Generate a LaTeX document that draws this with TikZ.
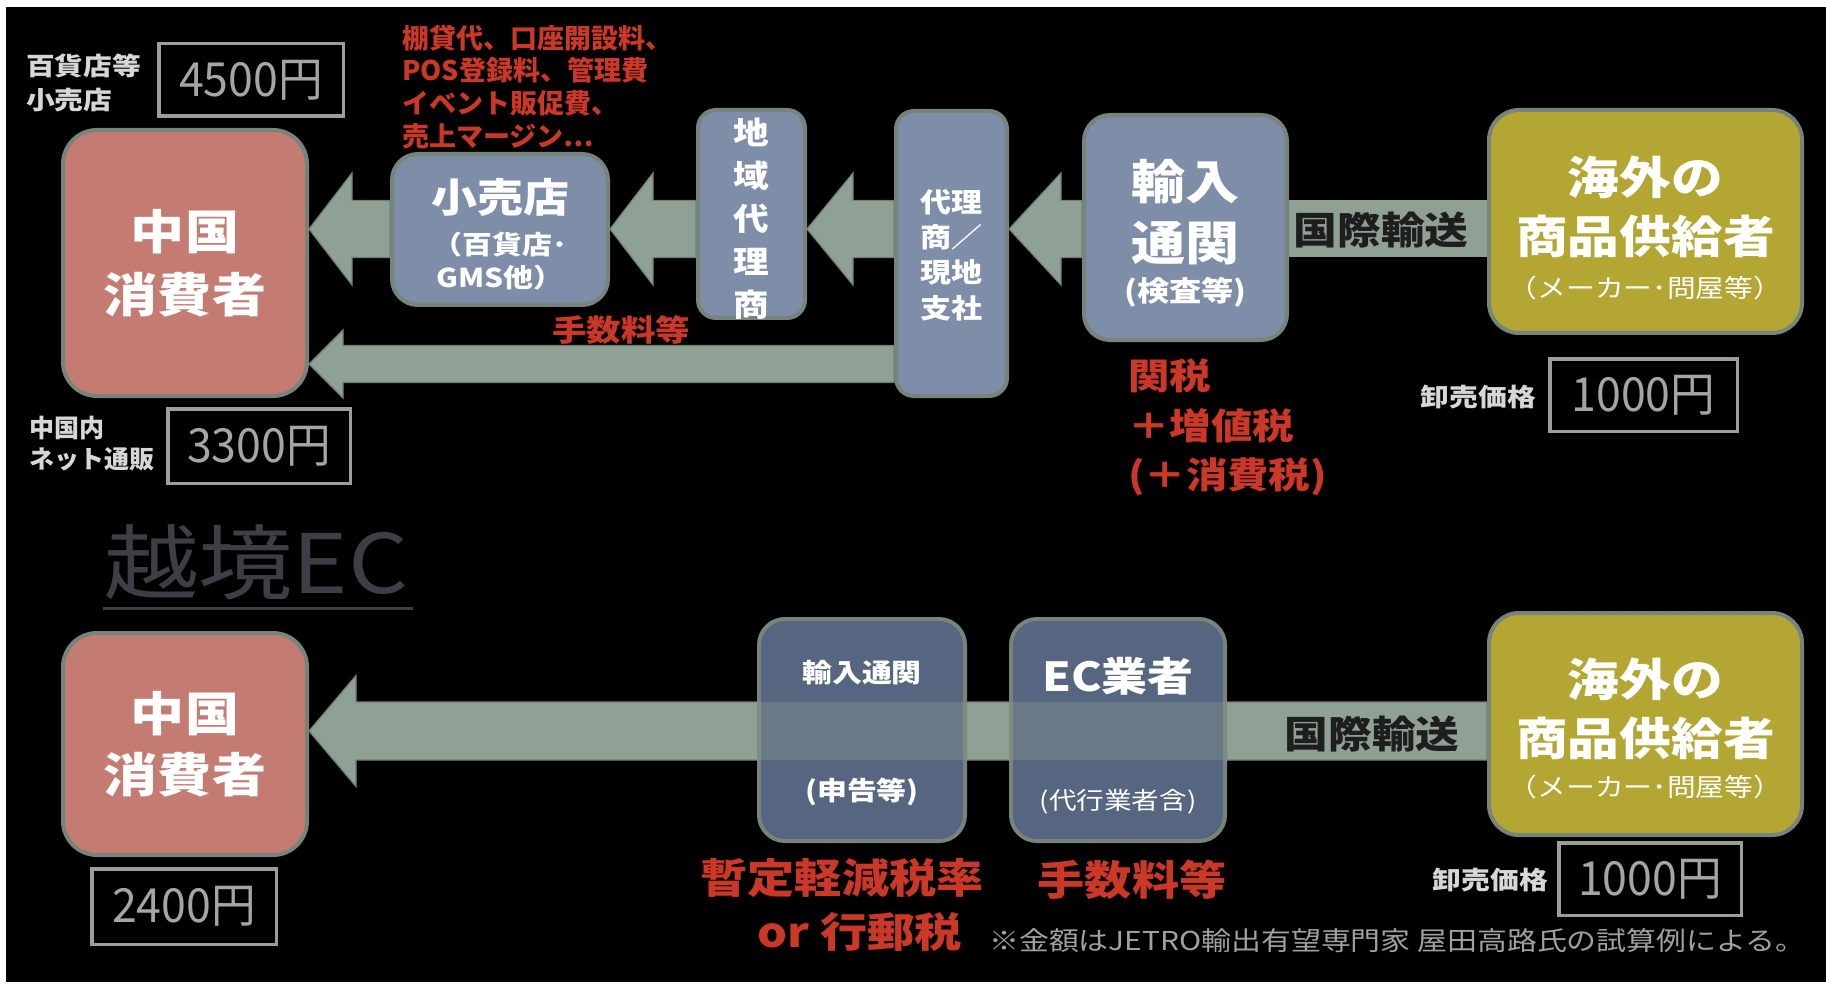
\documentclass[tikz,border=0pt]{standalone}
\usepackage{fontspec}
\usetikzlibrary{calc}
\newfontfamily\jp{Noto Sans CJK JP}[FakeStretch=1.15]
\newfontfamily\jpn{Noto Sans CJK JP}
\newfontfamily\jpc{Noto Sans CJK JP}[FakeStretch=0.95]
\newcommand{\setfs}[2]{\fontsize{#1}{#2}\selectfont}
\definecolor{pinkc}{RGB}{196,124,114}
\definecolor{slatec}{RGB}{126,141,168}
\definecolor{slated}{RGB}{86,101,128}
\definecolor{olivec}{RGB}{180,166,50}
\definecolor{arrowc}{RGB}{143,160,148}
\definecolor{arrowe}{RGB}{112,128,118}
\definecolor{bordc}{RGB}{118,132,124}
\definecolor{redc}{RGB}{204,56,40}
\definecolor{labc}{RGB}{215,215,215}
\definecolor{pricec}{RGB}{155,158,156}
\definecolor{pricet}{RGB}{165,165,165}
\definecolor{ecc}{RGB}{62,62,70}
\definecolor{bandt}{RGB}{30,30,30}
\definecolor{notec}{RGB}{160,160,160}
\pgfdeclarelayer{bg}
\pgfdeclarelayer{arrowlayer}
\pgfsetlayers{bg,arrowlayer,main}
\tikzset{
  bx/.style={draw=bordc, line width=4pt, rounded corners=#1, inner sep=0pt, text=white, align=center},
  bx/.default=26pt,
  pbox/.style={draw=pricec, line width=3.5pt, inner sep=0pt, text=pricet, font=\jpc\setfs{47}{47}},
  lab/.style={text=labc, inner sep=0pt, align=left},
  redlab/.style={text=redc, inner sep=0pt, align=left},
  wt/.style={text=white, inner sep=0pt, align=center},
  bandlab/.style={text=bandt, inner sep=0pt, font=\jp\bfseries\setfs{38}{38}},
  arrowbody/.style={fill=arrowc, draw=arrowe, line width=1.2pt, line join=miter},
}
% #1 start (right end), #2 tip, #3 shaft half-height, #4 head half-height, #5 head length
\newcommand{\blockarr}[5]{%
  \filldraw[arrowbody] let \p1=(#1), \p2=(#2) in
    (\x1,\y1+#3pt) -- (\x2+#5pt,\y1+#3pt) -- (\x2+#5pt,\y1+#4pt) -- (\x2,\y1)
    -- (\x2+#5pt,\y1-#4pt) -- (\x2+#5pt,\y1-#3pt) -- (\x1,\y1-#3pt) -- cycle;}
\begin{document}
\begin{tikzpicture}[x=1pt,y=-1pt]
\useasboundingbox (0,0) rectangle (1826,984);
\begin{pgfonlayer}{bg}
\fill[white] (0,0) rectangle (1826,984);
\fill[black] (6,7) rectangle (1826,982);
\end{pgfonlayer}

\coordinate (rowA) at (0,229);
\coordinate (rowB) at (0,364);
\coordinate (rowC) at (0,731);

% ---------- top row boxes ----------
\node[bx=34pt, fill=pinkc, minimum width=244pt, minimum height=266pt,
      font=\jp\bfseries\setfs{47}{63}] (cn1) at (185,263) {中国\\消費者};
\node[bx, fill=slatec, minimum width=216pt, minimum height=151pt] (kouri) at (500,229.5) {};
\node[bx=18pt, fill=slatec, minimum width=107pt, minimum height=208pt] (chiiki) at (751.5,214) {};
\node[bx=18pt, fill=slatec, minimum width=111pt, minimum height=285pt] (dairi) at (951.5,253.5) {};
\node[bx, fill=slatec, minimum width=203pt, minimum height=225pt] (yunyu) at (1185.5,227.5) {};
\node[bx=30pt, fill=olivec, minimum width=313pt, minimum height=223pt] (kaigai1) at (1645.5,221.5) {};

% ---------- top row connectors ----------
\begin{pgfonlayer}{arrowlayer}
\fill[arrowc] ($(yunyu.east |- rowA)+(0,-28.5)$) rectangle ($(kaigai1.west |- rowA)+(0,28.5)$);
\blockarr{yunyu.west |- rowA}{dairi.east |- rowA}{28.5}{56}{52}
\blockarr{dairi.west |- rowA}{chiiki.east |- rowA}{28.5}{56}{46}
\blockarr{chiiki.west |- rowA}{kouri.east |- rowA}{28.5}{56}{43}
\blockarr{kouri.west |- rowA}{cn1.east |- rowA}{28.5}{56}{43}
\blockarr{dairi.west |- rowB}{cn1.east |- rowB}{18.5}{34}{34}
\end{pgfonlayer}

% ---------- top row texts ----------
\node[wt, font=\jp\bfseries\setfs{40}{40}] (kouriT) at (500,197) {小売店};
\node[wt, font=\jp\bfseries\setfs{26}{26}] (kouriS1) at (500,245) {（百貨店･};
\node[wt, font=\jp\bfseries\setfs{26}{26}] (kouriS2) at (500,278) {GMS他）};
\node[wt, font=\jp\bfseries\setfs{31}{43}] (chiikiT) at (751.5,219) {地\\域\\代\\理\\商};
\node[wt, font=\jp\bfseries\setfs{27}{35.3}] (dairiT) at (951.5,255) {代理\\商／\\現地\\支社};
\node[wt, font=\jp\bfseries\setfs{47}{61}] (yunyuT) at (1185.5,212.5) {輸入\\通関};
\node[wt, font=\jp\bfseries\setfs{28}{28}] (yunyuS) at (1185.5,292) {(検査等)};
\node[wt, font=\jp\bfseries\setfs{45}{59}] (kaigai1T) at (1645.5,206.5) {海外の\\商品供給者};
\node[wt, font=\jp\setfs{25}{25}] (kaigai1S) at (1645.5,288) {（メーカー･問屋等）};
\node[bandlab] (kokusai1) at (1381,230) {国際輸送};

\node[lab, anchor=west, font=\jp\bfseries\setfs{25}{34}] (labHyakka) at (26,83) {百貨店等\\小売店};
\node[pbox, minimum width=184.5pt, minimum height=72.5pt] (p4500) at (251,80) {4500円};
\node[lab, anchor=west, font=\jpn\bfseries\setfs{25}{31}] (labNet) at (29,443.5) {中国内\\ネット通販};
\node[pbox, minimum width=182.5pt, minimum height=74.5pt] (p3300) at (259,446) {3300円};
\node[lab, anchor=east, font=\jp\bfseries\setfs{25}{25}] (labOroshi1) at (1536,397) {卸売価格};
\node[pbox, minimum width=187.5pt, minimum height=72.5pt] (p1000a) at (1643.5,395) {1000円};

\node[redlab, anchor=west, font=\jpn\bfseries\setfs{27}{32.7}] (redFees) at (402,87)
  {棚貸代、口座開設料、\\POS登録料、管理費\\イベント販促費、\\売上マージン…};
\node[redlab, font=\jp\bfseries\setfs{30}{30}] (redTesu1) at (621,330) {手数料等};
\node[redlab, anchor=west, font=\jp\bfseries\setfs{36}{49.5}] (redTax) at (1128,427.5)
  {関税\\＋増値税\\(＋消費税)};

% ---------- 越境EC ----------
\node[text=ecc, inner sep=0pt, anchor=base west, font=\jp\setfs{82}{82}] (ecTitle) at (104,593) {越境EC};
\fill[ecc] (ecTitle.base west) ++(-1,14) rectangle (413,610);

% ---------- bottom row ----------
\node[bx=34pt, fill=pinkc, minimum width=244pt, minimum height=222pt,
      font=\jp\bfseries\setfs{47}{61}] (cn2) at (185,744) {中国\\消費者};
\node[bx, fill=slated, minimum width=206pt, minimum height=222pt] (yunyu2) at (862,730) {};
\node[bx, fill=slated, minimum width=214pt, minimum height=222pt] (ecb) at (1118,730) {};
\node[bx=30pt, fill=olivec, minimum width=313pt, minimum height=222pt] (kaigai2) at (1645.5,724) {};
\begin{pgfonlayer}{arrowlayer}
\blockarr{kaigai2.west |- rowC}{cn2.east |- rowC}{29}{55.5}{47}
\end{pgfonlayer}
\fill[arrowc, opacity=0.35] ($(yunyu2.west |- rowC)+(0,-29)$) rectangle ($(yunyu2.east |- rowC)+(0,29)$);
\fill[arrowc, opacity=0.35] ($(ecb.west |- rowC)+(0,-29)$) rectangle ($(ecb.east |- rowC)+(0,29)$);

\node[wt, font=\jp\bfseries\setfs{26}{26}] (yunyu2T) at (862,673) {輸入通関};
\node[wt, font=\jp\bfseries\setfs{26}{26}] (yunyu2S) at (862,792) {(申告等)};
\node[wt, font=\jp\bfseries\setfs{40}{40}] (ecT) at (1118,676) {EC業者};
\node[wt, font=\jp\setfs{24}{24}] (ecS) at (1118,802) {(代行業者含)};
\node[wt, font=\jp\bfseries\setfs{45}{59}] (kaigai2T) at (1645.5,708.5) {海外の\\商品供給者};
\node[wt, font=\jp\setfs{25}{25}] (kaigai2S) at (1645.5,787) {（メーカー･問屋等）};
\node[bandlab] (kokusai2) at (1372,734) {国際輸送};

\node[pbox, minimum width=184.5pt, minimum height=75.5pt] (p2400) at (184,906.5) {2400円};
\node[lab, anchor=east, font=\jp\bfseries\setfs{25}{25}] (labOroshi2) at (1548,880) {卸売価格};
\node[pbox, minimum width=182.5pt, minimum height=72.5pt] (p1000b) at (1650,879) {1000円};

\node[redlab, align=center, font=\jp\bfseries\setfs{41}{41}] (redZantei) at (842,878) {暫定軽減税率};
\node[redlab, align=center, font=\jp\bfseries\setfs{41}{41}] (redKouyu) at (860,932) {or 行郵税};
\node[redlab, font=\jp\bfseries\setfs{41}{41}] (redTesu2) at (1132,880) {手数料等};
\node[text=notec, inner sep=0pt, anchor=west, font=\jp\setfs{26}{26}] (note) at (989,941)
  {※金額はJETRO輸出有望専門家 屋田高路氏の試算例による。};
\end{tikzpicture}
\end{document}
